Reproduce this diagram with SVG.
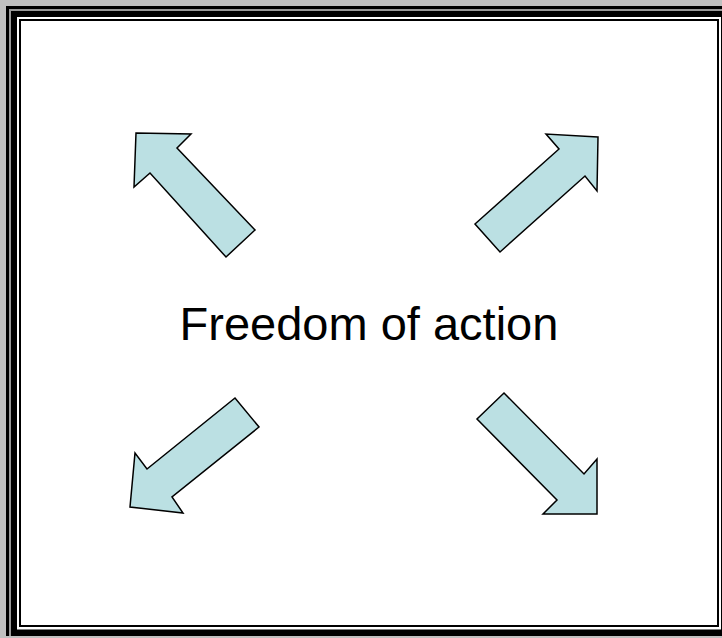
<svg xmlns="http://www.w3.org/2000/svg" width="722" height="638" viewBox="0 0 722 638">
  <style>
    .arrow { fill: #bbe0e3; stroke: #000; stroke-width: 1.5; stroke-linejoin: miter; }
    .label { font-family: "Liberation Sans", Arial, sans-serif; font-size: 47px; fill: #000; }
  </style>
  <g id="frame">
    <rect x="0" y="0" width="722" height="638" fill="#c0c0c0"/>
    <rect x="6" y="6" width="730" height="630" fill="#000"/>
    <rect x="9" y="9" width="730" height="627" fill="#999"/>
    <rect x="11" y="11" width="730" height="625" fill="#000"/>
    <rect x="17" y="17" width="704" height="612.5" fill="#fff"/>
    <rect x="19" y="19" width="700" height="608" fill="#000"/>
    <rect x="21" y="21" width="696" height="604" fill="#fff"/>
  </g>
  <g id="arrows">
    <g id="arrow-nw">
      <polygon class="arrow" points="136,133 191,134 177,148 255,230 226,257 150,173 134,187"/>
    </g>
    <g id="arrow-ne">
      <polygon class="arrow" points="598,137 546,134 559,149 475,224 500,252 585,176 597,191"/>
    </g>
    <g id="arrow-sw">
      <polygon class="arrow" points="130,507 135,453 147,469 235,398 259,427 172,497 183,513"/>
    </g>
    <g id="arrow-se">
      <polygon class="arrow" points="597,514 597,459 584,474 504,393 477,419 557,500 543,514"/>
    </g>
  </g>
  <g id="center-label">
    <text class="label" x="369" y="340" text-anchor="middle">Freedom of action</text>
  </g>
</svg>
